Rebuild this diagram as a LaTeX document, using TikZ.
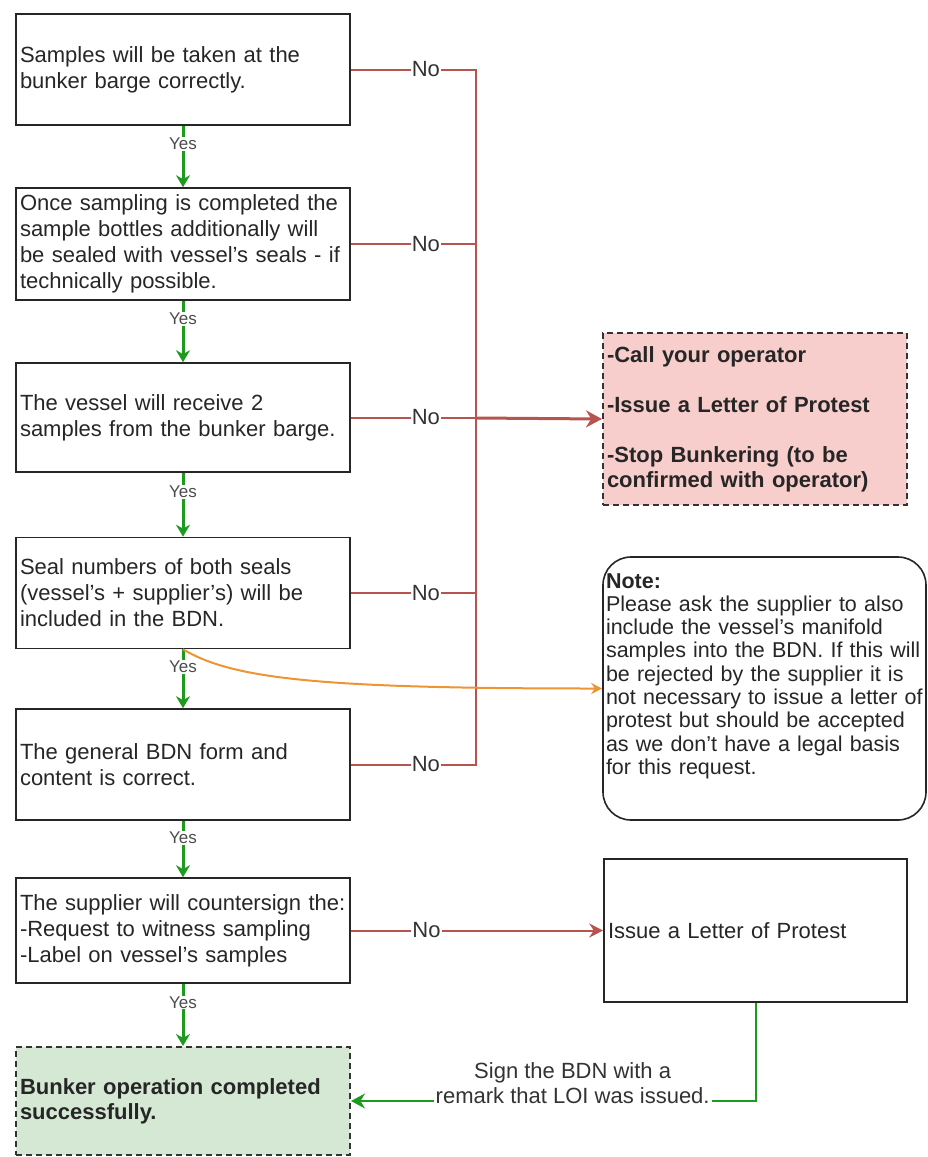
\documentclass[tikz,border=0pt]{standalone}
\usepackage{fontspec}
\setmainfont{Liberation Sans}
\usetikzlibrary{arrows.meta}

\definecolor{nored}{HTML}{B85450}
\definecolor{stopfill}{HTML}{F8CECC}
\definecolor{donefill}{HTML}{D5E8D4}
\definecolor{yesgreen}{HTML}{1E9A1E}
\definecolor{noteorange}{HTML}{EE9432}

\tikzset{
  stepbox/.style={draw=black!85, line width=1.6pt, text=black!85, align=left,
    text width=326pt, inner xsep=4pt, font=\fontsize{22}{26}\selectfont},
  stopbox/.style={draw=black!80, fill=stopfill, line width=2pt,
    dash pattern=on 6pt off 4pt, text=black!85, align=left, inner xsep=4pt,
    font=\bfseries\fontsize{22}{25}\selectfont},
  notebox/.style={draw=black!85, line width=1.6pt, rounded corners=28pt,
    text=black!85, align=left, text width=317pt, inner xsep=3pt,
    minimum height=263pt, font=\fontsize{21.5}{23.3}\selectfont},
  yesline/.style={yesgreen, line width=3pt, -{Stealth[length=12pt,width=14pt]}},
  yeslbl/.style={pos=0.3, fill=white, inner sep=1pt, text=black!70,
    font=\fontsize{17}{19}\selectfont},
  noline/.style={nored, line width=2pt},
  nolbl/.style={pos=0.3, fill=white, inner sep=1pt, text=black!80,
    font=\fontsize{22}{24}\selectfont},
}

\begin{document}
\begin{tikzpicture}[x=1pt, y=-1pt]
  \useasboundingbox (0,0) rectangle (927,1157);

  % checks on the left
  \node[stepbox, minimum height=111pt] (b1) at (183,69.5)
    {Samples will be taken at the\\bunker barge correctly.};
  \node[stepbox, minimum height=112pt] (b2) at (183,244)
    {Once sampling is completed the\\sample bottles additionally will\\be sealed with vessel's seals - if\\technically possible.};
  \node[stepbox, minimum height=109pt] (b3) at (183,417.5)
    {The vessel will receive 2\\samples from the bunker barge.};
  \node[stepbox, minimum height=111pt] (b4) at (183,593)
    {Seal numbers of both seals\\(vessel's + supplier's) will be\\included in the BDN.};
  \node[stepbox, minimum height=111pt] (b5) at (183,764.5)
    {The general BDN form and\\content is correct.};
  \node[stepbox, minimum height=105pt] (b6) at (183,930.5)
    {The supplier will countersign the:\\-Request to witness sampling\\-Label on vessel's samples};
  \node[stopbox, fill=donefill, text width=326pt, minimum height=108pt] (b7) at (183,1101)
    {Bunker operation completed\\successfully.};

  % outcomes on the right
  \node[stopbox, text width=296pt, minimum height=172pt] (act) at (755,419)
    {-Call your operator\\[25pt]-Issue a Letter of Protest\\[25pt]-Stop Bunkering (to be\\confirmed with operator)};
  \node[notebox] (note) at (764.5,688.5)
    {\textbf{Note:}\\Please ask the supplier to also\\include the vessel's manifold\\samples into the BDN. If this will\\be rejected by the supplier it is\\not necessary to issue a letter of\\protest but should be accepted\\as we don't have a legal basis\\for this request.\\[6pt]\mbox{}};
  \node[stepbox, text width=295pt, minimum height=143pt] (lop) at (755.5,930.5)
    {Issue a Letter of Protest};

  \coordinate (trunk) at (476,418);

  \foreach \a/\b in {b1/b2,b2/b3,b3/b4,b4/b5,b5/b6,b6/b7}
    \draw[yesline] (\a.south) -- node[yeslbl]{Yes} (\b.north);

  \foreach \a in {b1,b2,b3,b4,b5}
    \draw[noline] (\a.east) -| node[nolbl]{No} (trunk);
  \draw[noline, line width=3pt, -{Stealth[length=16pt,width=17pt]}] (trunk) -- (act.west);
  \draw[noline, -{Stealth[length=14pt,width=14pt]}] (b6.east) -- node[nolbl]{No} (lop.west);

  \draw[noteorange, line width=2pt, -{Stealth[length=11pt,width=11pt]}]
    (b4.south) .. controls +(50,30) and +(-280,0) .. (note.west);

  \draw[yesgreen, line width=2pt, -{Stealth[length=14pt,width=15pt]}] (lop.south) |-
    node[pos=0.726, yshift=18pt, fill=white, inner sep=2pt, align=center, text=black!80,
      font=\fontsize{22}{25}\selectfont] {Sign the BDN with a\\remark that LOI was issued.} (b7.east);
\end{tikzpicture}
\end{document}
